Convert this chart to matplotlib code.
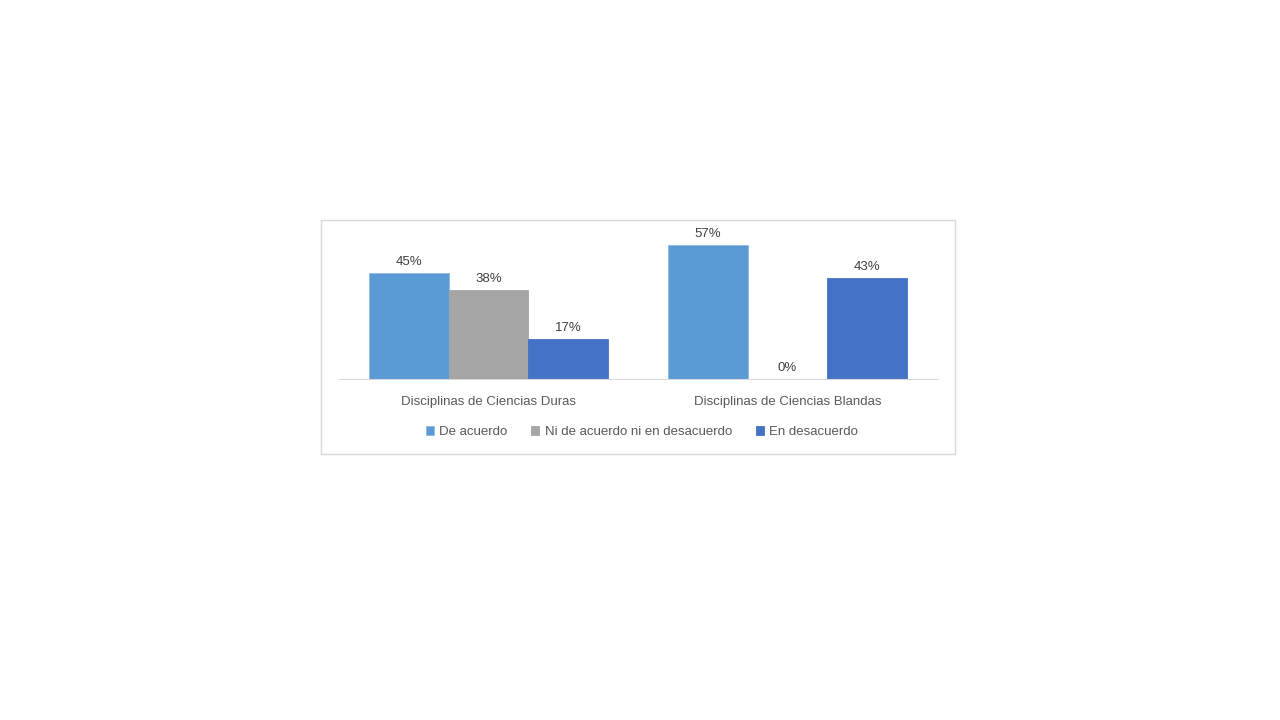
import matplotlib
matplotlib.use("Agg")
import matplotlib.pyplot as plt
from matplotlib.patches import Rectangle
import numpy as np

categories = ["Disciplinas de Ciencias Duras", "Disciplinas de Ciencias Blandas"]
series_names = ["De acuerdo", "Ni de acuerdo ni en desacuerdo", "En desacuerdo"]
de_acuerdo = [0.45, 0.57]
ni_ni = [0.38, 0.00]
en_desacuerdo = [0.17, 0.43]
colors = ["#5B9BD5", "#A5A5A5", "#4472C4"]

plt.rcParams['font.family'] = ['Liberation Sans', 'DejaVu Sans']
W, H = 1280, 720
fig = plt.figure(figsize=(12.8, 7.2), dpi=100)
fig.patch.set_facecolor("white")

# chart frame
fig.patches.append(Rectangle((321 / W, 1 - 454 / H), (955 - 321) / W, (454 - 220) / H,
                             transform=fig.transFigure, fill=False,
                             edgecolor="#D9D9D9", linewidth=1.0))

ax = fig.add_axes([339 / W, 1 - 379 / H, (937 - 339) / W, 141 / H])
x = np.arange(len(categories))
bw = 0.266
series = [de_acuerdo, ni_ni, en_desacuerdo]
for i, (vals, name, c) in enumerate(zip(series, series_names, colors)):
    pos = x + (i - 1) * bw
    ax.bar(pos, vals, width=bw, color=c, label=name,
           edgecolor="#8DB8E3" if i == 0 else c, linewidth=0.6)
    for xp, v in zip(pos, vals):
        ax.annotate(f"{v*100:.0f}%", (xp, v), xytext=(0, 3.5), textcoords="offset points",
                    ha="center", va="bottom", fontsize=9.5, color="#404040")

ax.set_xlim(-0.5, 1.5)
ax.set_ylim(0, 0.6)
ax.set_xticks(x)
ax.set_xticklabels(categories, fontsize=9.5, color="#595959")
ax.tick_params(axis="x", length=0, pad=12)
ax.set_yticks([])
for s in ["top", "left", "right"]:
    ax.spines[s].set_visible(False)
ax.spines["bottom"].set_color("#D9D9D9")
ax.set_facecolor("none")

handles, labels = ax.get_legend_handles_labels()
fig.legend(handles, labels, loc="center", bbox_to_anchor=(642 / W, 1 - 432 / H),
           ncol=3, frameon=False, fontsize=9.5, handlelength=0.6, handleheight=0.6,
           handletextpad=0.4, columnspacing=1.8, labelcolor="#595959")

fig.savefig("out.png", dpi=100, facecolor="white")
